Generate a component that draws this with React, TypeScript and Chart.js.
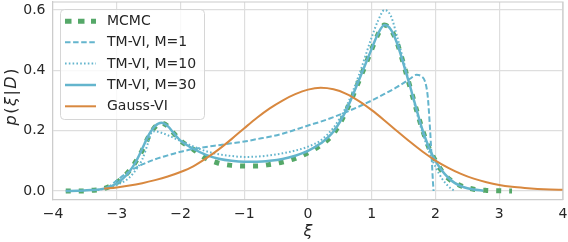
import React, { useEffect, useRef } from "react";
import { Chart, registerables } from "chart.js";

Chart.register(...registerables);

const X_TICKS = [-4, -3, -2, -1, 0, 1, 2, 3, 4];
const Y_TICKS = [0, 0.2, 0.4, 0.6];
const LABELS = ["MCMC", "TM-VI, M=1", "TM-VI, M=10", "TM-VI, M=30", "Gauss-VI"];

const MCMC_X = [-3.8, -3.6, -3.4, -3.2, -3.0, -2.9, -2.8, -2.7, -2.6, -2.5, -2.4, -2.3, -2.2, -2.1, -2.0, -1.8, -1.6, -1.4, -1.2, -1.0, -0.8, -0.6, -0.4, -0.2, 0.0, 0.2, 0.4, 0.6, 0.8, 1.0, 1.1, 1.2, 1.3, 1.4, 1.5, 1.6, 1.7, 1.8, 1.9, 2.0, 2.1, 2.2, 2.4, 2.6, 2.8, 3.0, 3.2];
const MCMC_Y = [0.0, 0.0, 0.002, 0.008, 0.028, 0.045, 0.068, 0.098, 0.135, 0.18, 0.212, 0.225, 0.215, 0.19, 0.167, 0.138, 0.108, 0.092, 0.085, 0.083, 0.083, 0.088, 0.096, 0.108, 0.127, 0.152, 0.19, 0.265, 0.365, 0.47, 0.52, 0.55, 0.535, 0.49, 0.42, 0.345, 0.27, 0.2, 0.142, 0.1, 0.066, 0.042, 0.017, 0.006, 0.002, 0.001, 0.0];

const M1_X = [-3.15, -3.0, -2.8, -2.6, -2.4, -2.2, -2.0, -1.8, -1.6, -1.4, -1.2, -1.0, -0.8, -0.6, -0.4, -0.2, 0.0, 0.2, 0.4, 0.6, 0.8, 1.0, 1.2, 1.4, 1.6, 1.7, 1.78, 1.84, 1.88, 1.91, 1.94, 1.96, 1.97];
const M1_Y = [0.008, 0.035, 0.065, 0.088, 0.105, 0.118, 0.13, 0.139, 0.146, 0.152, 0.158, 0.164, 0.172, 0.18, 0.19, 0.203, 0.217, 0.23, 0.245, 0.262, 0.28, 0.3, 0.322, 0.345, 0.372, 0.385, 0.38, 0.36, 0.31, 0.22, 0.11, 0.03, 0.0];

const M10_X = [-3.3, -3.1, -2.9, -2.8, -2.7, -2.6, -2.5, -2.45, -2.4, -2.3, -2.2, -2.0, -1.8, -1.6, -1.4, -1.2, -1.0, -0.8, -0.6, -0.4, -0.2, 0.0, 0.2, 0.4, 0.6, 0.8, 1.0, 1.1, 1.2, 1.3, 1.4, 1.5, 1.6, 1.7, 1.8, 1.9, 2.0, 2.1, 2.2, 2.3];
const M10_Y = [0.003, 0.012, 0.03, 0.045, 0.07, 0.105, 0.165, 0.195, 0.198, 0.193, 0.185, 0.166, 0.148, 0.132, 0.122, 0.116, 0.113, 0.114, 0.118, 0.125, 0.134, 0.147, 0.168, 0.21, 0.28, 0.385, 0.51, 0.565, 0.6, 0.58, 0.51, 0.43, 0.35, 0.265, 0.19, 0.13, 0.08, 0.042, 0.016, 0.0];

const M30_X = [-3.8, -3.6, -3.4, -3.2, -3.0, -2.9, -2.8, -2.7, -2.6, -2.5, -2.4, -2.3, -2.2, -2.1, -2.0, -1.8, -1.6, -1.4, -1.2, -1.0, -0.8, -0.6, -0.4, -0.2, 0.0, 0.2, 0.4, 0.6, 0.8, 1.0, 1.1, 1.2, 1.3, 1.4, 1.5, 1.6, 1.7, 1.8, 1.9, 2.0, 2.1, 2.2, 2.3, 2.4, 2.5, 2.6, 2.75];
const M30_Y = [0.0, 0.001, 0.003, 0.008, 0.025, 0.042, 0.065, 0.097, 0.14, 0.185, 0.215, 0.226, 0.215, 0.19, 0.167, 0.14, 0.12, 0.107, 0.1, 0.097, 0.097, 0.1, 0.106, 0.117, 0.133, 0.158, 0.197, 0.268, 0.368, 0.472, 0.522, 0.55, 0.535, 0.488, 0.42, 0.348, 0.272, 0.2, 0.143, 0.1, 0.068, 0.044, 0.027, 0.016, 0.009, 0.005, 0.001];

const GAUSS_X = [-3.2, -3.0, -2.8, -2.6, -2.4, -2.2, -2.0, -1.8, -1.6, -1.4, -1.2, -1.0, -0.8, -0.6, -0.4, -0.2, 0.0, 0.2, 0.4, 0.6, 0.8, 1.0, 1.2, 1.4, 1.6, 1.8, 2.0, 2.2, 2.4, 2.6, 2.8, 3.0, 3.2, 3.4, 3.6, 3.8, 4.0];
const GAUSS_Y = [0.008, 0.012, 0.018, 0.026, 0.036, 0.048, 0.063, 0.082, 0.108, 0.138, 0.172, 0.208, 0.243, 0.274, 0.3, 0.321, 0.336, 0.342, 0.337, 0.322, 0.298, 0.268, 0.234, 0.198, 0.163, 0.13, 0.101, 0.077, 0.057, 0.041, 0.029, 0.02, 0.014, 0.01, 0.007, 0.005, 0.004];

const GREEN = "#55a868";
const CYAN = "#64b5cd";
const ORANGE = "#d8883f";
const FONT = "'DejaVu Sans', sans-serif";
const TEXT = "#262626";
const GRID = "#dedede";
const SPINE = "#cccccc";

const STYLES = [
  { color: GREEN, width: 5, dash: [5, 8], legendDash: [6.5, 6.5] },
  { color: CYAN, width: 2, dash: [5.5, 2.6], legendDash: [5.5, 2.6] },
  { color: CYAN, width: 2, dash: [1.6, 2.2], legendDash: [1.6, 2.2] },
  { color: CYAN, width: 2.5, dash: [], legendDash: [] },
  { color: ORANGE, width: 2, dash: [], legendDash: [] },
];

function pts(xs: number[], ys: number[]) {
  return xs.map((x, i) => ({ x, y: ys[i] }));
}

const decor = {
  id: "decor",
  afterDraw(chart: any) {
    const ctx = chart.ctx as CanvasRenderingContext2D;
    const a = chart.chartArea;
    ctx.save();
    // top and right spines
    ctx.strokeStyle = SPINE;
    ctx.lineWidth = 1.2;
    ctx.setLineDash([]);
    ctx.beginPath();
    ctx.moveTo(a.left, a.top);
    ctx.lineTo(a.right, a.top);
    ctx.lineTo(a.right, a.bottom);
    ctx.stroke();

    // legend
    const lx = 60.5, ly = 9.5, lw = 144, lh = 110;
    ctx.beginPath();
    (ctx as any).roundRect(lx, ly, lw, lh, 4);
    ctx.fillStyle = "rgba(255,255,255,0.8)";
    ctx.fill();
    ctx.strokeStyle = "#d6d6d6";
    ctx.lineWidth = 1;
    ctx.stroke();
    const rows = [21.3, 42.3, 63.6, 85.0, 106.3];
    ctx.font = `14px ${FONT}`;
    ctx.textBaseline = "middle";
    ctx.textAlign = "left";
    LABELS.forEach((lab, i) => {
      const s = STYLES[i];
      ctx.beginPath();
      ctx.strokeStyle = s.color;
      ctx.lineWidth = s.width;
      ctx.lineCap = "butt";
      ctx.setLineDash(s.legendDash);
      ctx.moveTo(65, rows[i]);
      ctx.lineTo(96, rows[i]);
      ctx.stroke();
      ctx.setLineDash([]);
      ctx.fillStyle = TEXT;
      ctx.fillText(lab, 107, rows[i] + 0.5);
    });

    // y title p(ξ|D)
    const segs: [string, boolean][] = [["p", true], ["(", false], ["ξ", true], ["|", false], ["D", true], [")", false]];
    const size = 16;
    const gap = 1.5;
    const it = `italic ${size}px ${FONT}`;
    const nr = `${size}px ${FONT}`;
    let total = 0;
    const widths = segs.map(([t, i]) => {
      ctx.font = i ? it : nr;
      const w = ctx.measureText(t).width + gap;
      total += w;
      return w;
    });
    total -= gap;
    ctx.translate(16, (a.top + a.bottom) / 2 - 4);
    ctx.rotate(-Math.PI / 2);
    ctx.textBaseline = "alphabetic";
    ctx.fillStyle = TEXT;
    let cx = -total / 2;
    segs.forEach(([t, i], k) => {
      ctx.font = i ? it : nr;
      ctx.fillText(t, cx, 0);
      cx += widths[k];
    });
    ctx.restore();

    // x title ξ
    ctx.save();
    ctx.font = `italic ${size}px ${FONT}`;
    ctx.fillStyle = TEXT;
    ctx.textAlign = "center";
    ctx.textBaseline = "alphabetic";
    ctx.fillText("ξ", (a.left + a.right) / 2, 236);
    ctx.restore();
  },
};

export default function App() {
  const ref = useRef<HTMLCanvasElement | null>(null);
  useEffect(() => {
    document.body.style.margin = "0";
    const canvas = ref.current!;
    const series = [
      pts(MCMC_X, MCMC_Y),
      pts(M1_X, M1_Y),
      pts(M10_X, M10_Y),
      pts(M30_X, M30_Y),
      pts(GAUSS_X, GAUSS_Y),
    ];
    const chart = new Chart(canvas, {
      type: "line",
      data: {
        datasets: series.map((d, i) => ({
          label: LABELS[i],
          data: d,
          borderColor: STYLES[i].color,
          backgroundColor: STYLES[i].color,
          borderWidth: STYLES[i].width,
          borderDash: STYLES[i].dash,
          borderCapStyle: "butt",
          pointRadius: 0,
          fill: false,
          cubicInterpolationMode: "monotone",
          order: 5 - i,
        })) as any,
      },
      options: {
        animation: false,
        responsive: false,
        devicePixelRatio: 1,
        events: [],
        layout: { padding: { top: 2, right: 5, left: 0, bottom: 0 } },
        plugins: { legend: { display: false }, tooltip: { enabled: false } },
        scales: {
          x: {
            type: "linear",
            min: -4,
            max: 4,
            afterBuildTicks: (s: any) => {
              s.ticks = X_TICKS.map((v) => ({ value: v }));
            },
            afterFit: (s: any) => {
              s.height = 42;
              s.paddingLeft = 0;
              s.paddingRight = 0;
            },
            grid: { color: GRID, lineWidth: 1.2, drawTicks: false },
            border: { color: SPINE, width: 1.2 },
            ticks: {
              autoSkip: false,
              maxRotation: 0,
              padding: 6,
              color: TEXT,
              font: { family: FONT, size: 14 },
              callback: (v: any) => (Number(v) < 0 ? "\u2212" + Math.abs(Number(v)) : String(v)),
            },
          },
          y: {
            type: "linear",
            min: -0.0298,
            max: 0.6265,
            afterBuildTicks: (s: any) => {
              s.ticks = Y_TICKS.map((v) => ({ value: v }));
            },
            afterFit: (s: any) => {
              s.width = 53;
              s.paddingTop = 0;
              s.paddingBottom = 0;
            },
            grid: { color: GRID, lineWidth: 1.2, drawTicks: false },
            border: { color: SPINE, width: 1.2 },
            ticks: {
              autoSkip: false,
              padding: 7.5,
              color: TEXT,
              font: { family: FONT, size: 14 },
              callback: (v: any) => Number(v).toFixed(1),
            },
          },
        },
      },
      plugins: [decor],
    });
    return () => chart.destroy();
  }, []);
  return (
    <div style={{ width: 568, height: 242, background: "#fff" }}>
      <canvas ref={ref} width={568} height={242} style={{ display: "block" }} />
    </div>
  );
}
